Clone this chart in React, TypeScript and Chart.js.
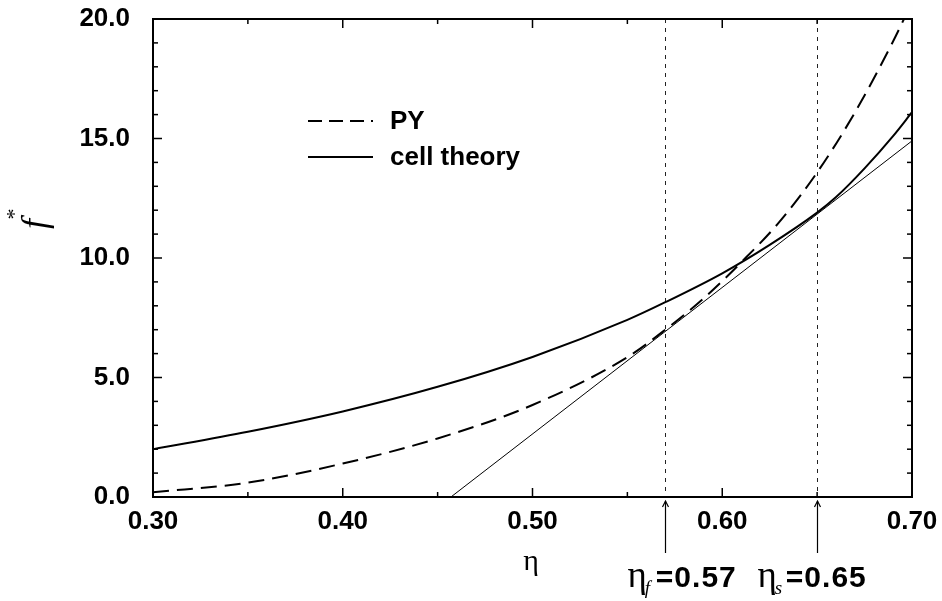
import React, { useEffect, useRef } from "react";
import { Chart, registerables } from "chart.js";

Chart.register(...registerables);

// ---- data ----
const etaPY = [0.30, 0.35, 0.40, 0.45, 0.50, 0.55, 0.57, 0.59, 0.61, 0.63, 0.65, 0.67, 0.69, 0.70];
const fPY = [0.2, 0.6, 1.4, 2.45, 3.85, 5.85, 7.0, 8.3, 9.82, 11.5, 13.58, 16.1, 19.06, 20.7];

const etaCell = [0.30, 0.35, 0.40, 0.45, 0.50, 0.55, 0.57, 0.60, 0.625, 0.65, 0.66, 0.675, 0.69, 0.70];
const fCell = [2.0, 2.73, 3.58, 4.61, 5.86, 7.41, 8.15, 9.36, 10.55, 11.9, 12.55, 13.75, 15.1, 16.1];

const etaTangent = [0.457, 0.70];
const fTangent = [0, 14.9];

const markerEta = [0.57, 0.65];
const markerLabels = [
  { eta: "\u03b7", sub: "f", text: "=0.57" },
  { eta: "\u03b7", sub: "s", text: "=0.65" },
];

const xTicks = [0.3, 0.4, 0.5, 0.6, 0.7];
const xMinor = [0.35, 0.45, 0.55, 0.65];
const yTicks = [0, 5, 10, 15, 20];
const yMinor = [1, 2, 3, 4, 6, 7, 8, 9, 11, 12, 13, 14, 16, 17, 18, 19];

const legendLabels = ["PY", "cell theory"];

const SANS = "'Liberation Sans', Arial, Helvetica, sans-serif";
const SERIF = "'Liberation Serif', 'Times New Roman', serif";

// horizontal offset of each marker label relative to its arrow (style, not data)
const LABEL_OFFSETS = [-38, -60];

const toXY = (xs: number[], ys: number[]) => xs.map((x, i) => ({ x, y: ys[i] }));

const decorPlugin = {
  id: "decor",
  beforeDatasetsDraw(chart: any) {
    const { ctx, chartArea, scales } = chart;
    const { top, bottom } = chartArea;
    ctx.save();
    ctx.strokeStyle = "#222";
    ctx.lineWidth = 1;
    ctx.setLineDash([4, 5]);
    markerEta.forEach((v) => {
      const px = Math.round(scales.x.getPixelForValue(v)) + 0.5;
      ctx.beginPath();
      ctx.moveTo(px, top);
      ctx.lineTo(px, bottom);
      ctx.stroke();
    });
    ctx.restore();
  },
  afterDraw(chart: any) {
    const { ctx, chartArea, scales } = chart;
    const { left, right, top, bottom } = chartArea;
    const xs = scales.x;
    const ys = scales.y;
    ctx.save();
    ctx.strokeStyle = "#000";
    ctx.lineWidth = 1.5;
    ctx.setLineDash([]);
    const seg = (x1: number, y1: number, x2: number, y2: number) => {
      ctx.beginPath();
      ctx.moveTo(x1, y1);
      ctx.lineTo(x2, y2);
      ctx.stroke();
    };
    // inward ticks on all four sides
    xTicks.forEach((v) => {
      const p = xs.getPixelForValue(v);
      seg(p, bottom, p, bottom - 9);
      seg(p, top, p, top + 9);
    });
    xMinor.forEach((v) => {
      const p = xs.getPixelForValue(v);
      seg(p, bottom, p, bottom - 5);
      seg(p, top, p, top + 5);
    });
    yTicks.forEach((v) => {
      const p = ys.getPixelForValue(v);
      seg(left, p, left + 9, p);
      seg(right, p, right - 9, p);
    });
    yMinor.forEach((v) => {
      const p = ys.getPixelForValue(v);
      seg(left, p, left + 5, p);
      seg(right, p, right - 5, p);
    });
    // frame
    ctx.lineWidth = 2;
    ctx.strokeRect(left, top, right - left, bottom - top);

    // legend
    const lx1 = 308, lx2 = 373;
    const ly = [121, 157];
    ctx.lineWidth = 2;
    ctx.setLineDash([14, 7]);
    seg(lx1, ly[0], lx2, ly[0]);
    ctx.setLineDash([]);
    seg(lx1, ly[1], lx2, ly[1]);
    ctx.fillStyle = "#000";
    ctx.font = `bold 26px ${SANS}`;
    ctx.textAlign = "left";
    ctx.textBaseline = "middle";
    ctx.fillText(legendLabels[0], 390, ly[0] + 1);
    ctx.fillText(legendLabels[1], 390, ly[1] + 1);

    // axis titles
    ctx.font = `30px ${SERIF}`;
    ctx.textAlign = "center";
    ctx.textBaseline = "alphabetic";
    ctx.fillText("\u03b7", 531, 570);

    ctx.save();
    ctx.translate(37, 224);
    ctx.rotate(-Math.PI / 2);
    ctx.font = `italic 36px ${SERIF}`;
    ctx.textAlign = "center";
    ctx.textBaseline = "middle";
    ctx.fillText("f", 0, 0);
    ctx.font = `22px ${SERIF}`;
    ctx.fillText("*", 10, -22);
    ctx.restore();

    // arrows and marker labels
    ctx.lineWidth = 1.2;
    markerEta.forEach((v, i) => {
      const px = Math.round(xs.getPixelForValue(v)) + 0.5;
      seg(px, 553, px, bottom + 4);
      ctx.beginPath();
      ctx.moveTo(px - 3, bottom + 10);
      ctx.lineTo(px, bottom + 4);
      ctx.lineTo(px + 3, bottom + 10);
      ctx.stroke();

      const lab = markerLabels[i];
      const startX = px + LABEL_OFFSETS[i];
      const base = 587;
      ctx.textAlign = "left";
      ctx.textBaseline = "alphabetic";
      ctx.font = `37px ${SERIF}`;
      ctx.fillText(lab.eta, startX, base);
      const ew = ctx.measureText(lab.eta).width;
      ctx.font = `italic 19px ${SERIF}`;
      ctx.fillText(lab.sub, startX + ew - 2, base + 7);
      ctx.font = `bold 30px ${SANS}`;
      try { (ctx as any).letterSpacing = "1px"; } catch (e) {}
      ctx.fillText(lab.text, startX + ew + 9, base);
      try { (ctx as any).letterSpacing = "0px"; } catch (e) {}
    });
    ctx.restore();
  },
};

export default function App() {
  const ref = useRef<HTMLCanvasElement | null>(null);
  useEffect(() => {
    if (!ref.current) return;
    const chart = new Chart(ref.current, {
      type: "line",
      data: {
        datasets: [
          {
            label: "PY",
            data: toXY(etaPY, fPY),
            borderColor: "#000",
            borderWidth: 2,
            borderDash: [16, 8],
            pointRadius: 0,
            cubicInterpolationMode: "monotone",
            fill: false,
          },
          {
            label: "cell theory",
            data: toXY(etaCell, fCell),
            borderColor: "#000",
            borderWidth: 2,
            pointRadius: 0,
            cubicInterpolationMode: "monotone",
            fill: false,
          },
          {
            label: "tangent",
            data: toXY(etaTangent, fTangent),
            borderColor: "#000",
            borderWidth: 1,
            pointRadius: 0,
            fill: false,
          },
        ],
      },
      options: {
        animation: false,
        responsive: false,
        maintainAspectRatio: false,
        layout: { padding: { left: 0, top: 19, right: 30, bottom: 0 } },
        plugins: {
          legend: { display: false },
          tooltip: { enabled: false },
        },
        scales: {
          x: {
            type: "linear",
            min: 0.3,
            max: 0.7,
            grid: { display: false, drawTicks: false },
            border: { display: false },
            afterBuildTicks: (s: any) => {
              s.ticks = xTicks.map((v) => ({ value: v }));
            },
            afterFit: (s: any) => {
              s.height = 104;
              s.paddingLeft = 0;
              s.paddingRight = 0;
              s.paddingTop = 0;
              s.paddingBottom = 0;
            },
            ticks: {
              padding: 9,
              color: "#000",
              font: { family: SANS, size: 26, weight: "bold" },
              callback: (v: any) => Number(v).toFixed(2),
              maxRotation: 0,
            },
          },
          y: {
            type: "linear",
            min: 0,
            max: 20,
            grid: { display: false, drawTicks: false },
            border: { display: false },
            afterBuildTicks: (s: any) => {
              s.ticks = yTicks.map((v) => ({ value: v }));
            },
            afterFit: (s: any) => {
              s.width = 153;
              s.paddingLeft = 0;
              s.paddingRight = 0;
              s.paddingTop = 0;
              s.paddingBottom = 0;
            },
            ticks: {
              padding: 23,
              color: "#000",
              font: { family: SANS, size: 26, weight: "bold" },
              callback: (v: any) => Number(v).toFixed(1),
            },
          },
        },
      } as any,
      plugins: [decorPlugin],
    });
    return () => chart.destroy();
  }, []);
  return (
    <div style={{ position: "fixed", left: 0, top: 0, width: 942, height: 601, background: "#fff" }}>
      <canvas ref={ref} width={942} height={601} style={{ display: "block" }} />
    </div>
  );
}
